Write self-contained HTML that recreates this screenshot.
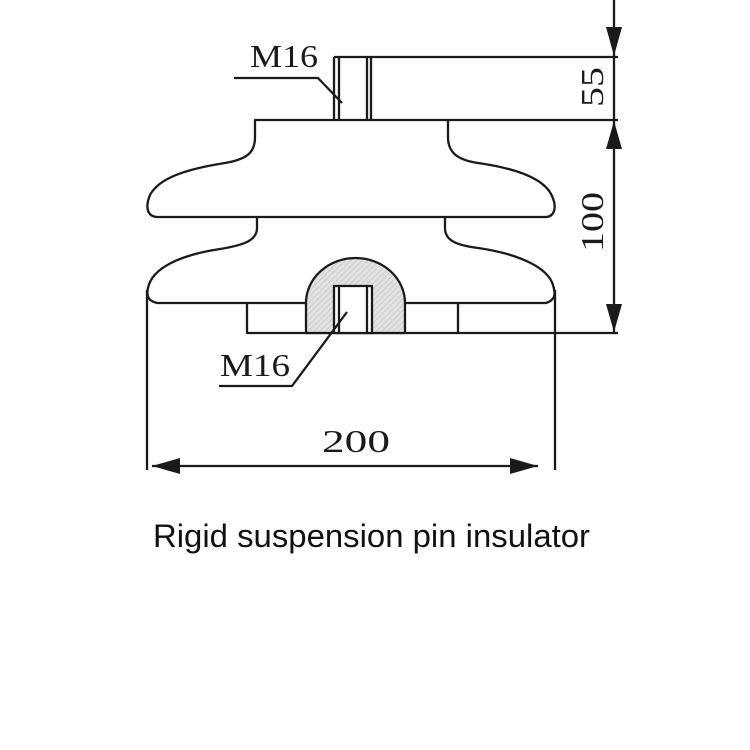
<!DOCTYPE html>
<html><head><meta charset="utf-8"><style>
html,body{margin:0;padding:0;background:#fff;}
svg{display:block;}
</style></head><body>
<svg width="750" height="750" viewBox="0 0 750 750" xmlns="http://www.w3.org/2000/svg">
<defs>
<pattern id="h" width="4" height="4" patternUnits="userSpaceOnUse" patternTransform="rotate(45)">
<rect width="4" height="4" fill="#e2e2e2"/>
<line x1="0" y1="0" x2="0" y2="4" stroke="#bdbdbd" stroke-width="1.2"/>
</pattern>
</defs>
<rect width="750" height="750" fill="#fff"/>
<g fill="none" stroke="#1a1a1a" stroke-width="2.3" stroke-linejoin="round">
<!-- upper shed -->
<path d="M255,120 H448 V137 C448,153 458,160 478,163 C520,169 545,180 552,196 C557,207 555,217 545,217 H158 C147,217 145,207 150,195 C158,180 180,170 225,163 C248,159 255,152 255,137 Z" fill="#fff"/>
<!-- lower shed -->
<path d="M445,217 V228 C445,240 455,245 478,248 C520,254 548,268 553,285 C556,295 555,300 546,303 H157 C149,301 146,297 148,288 C152,268 180,255 220,249 C245,245 257,240 257,228 V217"/>
<!-- bottom rect -->
<path d="M247,303 V333 H618 M458,303 V333"/>
<!-- dome -->
<path d="M306,333 V303 A49.5,45 0 0 1 405,303 V333 Z" fill="url(#h)"/>
<rect x="334" y="286" width="38" height="47" fill="#fff"/>
<path d="M339,286 V333 M367,286 V333"/>
<!-- top pin -->
<path d="M334,57 V120 M339,57 V120 M367,57 V120 M371,57 V120 M334,57 H618 M448,120 H618"/>
<!-- extension lines -->
<path d="M147,290 V470 M555,290 V470"/>
<!-- leaders -->
<path d="M234,78 H318 L342,103"/>
<path d="M219,386 H292 L347,312"/>
<!-- dim lines -->
<path d="M152,466 H538"/>
<path d="M614,0 V333"/>
</g>
<g fill="#1a1a1a" stroke="none">
<polygon points="152,466 180,458 180,474"/>
<polygon points="538,466 510,458 510,474"/>
<polygon points="614,56 606,27 622,27"/>
<polygon points="614,121 606,149 622,149"/>
<polygon points="614,332 606,304 622,304"/>
</g>
<g font-family="'Liberation Serif', serif" font-size="32" fill="#1a1a1a">
<text x="250" y="67" textLength="68" lengthAdjust="spacingAndGlyphs">M16</text>
<text x="220" y="376" textLength="70" lengthAdjust="spacingAndGlyphs">M16</text>
<text x="322" y="452" textLength="68" lengthAdjust="spacingAndGlyphs">200</text>
<text transform="translate(603,107) rotate(-90)" textLength="40" lengthAdjust="spacingAndGlyphs">55</text>
<text transform="translate(603,252) rotate(-90)" textLength="60" lengthAdjust="spacingAndGlyphs">100</text>
</g>
<text x="153" y="547" font-family="'Liberation Sans', 'Noto Sans CJK SC', sans-serif" font-size="32" fill="#111" textLength="437" lengthAdjust="spacingAndGlyphs">Rigid suspension pin insulator</text>
</svg>
</body></html>
